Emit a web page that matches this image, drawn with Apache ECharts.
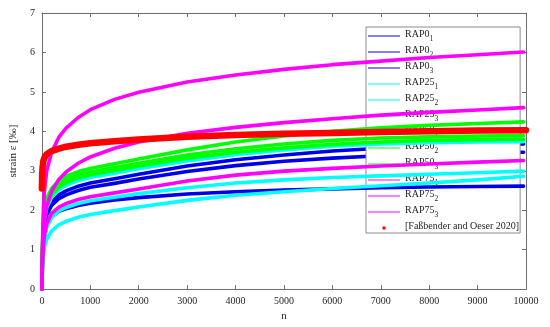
<!DOCTYPE html>
<html>
<head>
<meta charset="utf-8">
<script src="https://cdn.jsdelivr.net/npm/echarts@6/dist/echarts.min.js"></script>
<style>html,body{margin:0;padding:0;background:#fff;}#c{width:550px;height:327px;}</style>
</head>
<body>
<div id="c"></div>
<script>
// ---- data ----
const nVals = [0, 10, 25, 50, 100, 200, 350, 500, 750, 1000, 1500, 2000, 3000, 4000, 5000, 6000, 7000, 8000, 9000, 9950];

const rap0_1  = [0, 0.80, 1.28, 1.65, 1.95, 2.20, 2.39, 2.49, 2.61, 2.69, 2.80, 2.91, 3.12, 3.28, 3.40, 3.50, 3.57, 3.62, 3.66, 3.68];
const rap0_2  = [0, 0.75, 1.22, 1.58, 1.88, 2.12, 2.29, 2.39, 2.50, 2.58, 2.68, 2.79, 2.98, 3.13, 3.24, 3.32, 3.38, 3.42, 3.45, 3.47];
const rap0_3  = [0, 0.58, 0.98, 1.32, 1.60, 1.83, 1.97, 2.04, 2.12, 2.18, 2.26, 2.32, 2.41, 2.47, 2.51, 2.54, 2.57, 2.59, 2.60, 2.61];
const rap25_1 = [0, 0.85, 1.35, 1.75, 2.06, 2.33, 2.52, 2.63, 2.75, 2.83, 2.94, 3.05, 3.25, 3.41, 3.53, 3.62, 3.68, 3.71, 3.73, 3.74];
const rap25_2 = [0, 0.55, 0.95, 1.28, 1.57, 1.81, 1.98, 2.07, 2.17, 2.24, 2.33, 2.42, 2.57, 2.69, 2.77, 2.83, 2.87, 2.91, 2.95, 2.99];
const rap25_3 = [0, 0.50, 0.80, 1.05, 1.27, 1.47, 1.63, 1.72, 1.82, 1.89, 1.99, 2.08, 2.25, 2.38, 2.47, 2.55, 2.62, 2.69, 2.77, 2.86];
const rap50_1 = [0, 1.00, 1.55, 1.95, 2.30, 2.55, 2.75, 2.86, 2.98, 3.06, 3.18, 3.30, 3.53, 3.73, 3.88, 4.00, 4.09, 4.15, 4.20, 4.24];
const rap50_2 = [0, 0.95, 1.45, 1.88, 2.20, 2.47, 2.66, 2.77, 2.89, 2.97, 3.08, 3.19, 3.40, 3.56, 3.68, 3.77, 3.83, 3.86, 3.88, 3.89];
const rap50_3 = [0, 0.90, 1.40, 1.82, 2.13, 2.40, 2.59, 2.70, 2.82, 2.90, 3.01, 3.12, 3.32, 3.47, 3.58, 3.67, 3.73, 3.77, 3.79, 3.80];
const rap75_1 = [0, 1.10, 1.85, 2.45, 3.00, 3.47, 3.85, 4.08, 4.35, 4.55, 4.81, 4.99, 5.25, 5.43, 5.57, 5.69, 5.78, 5.87, 5.94, 6.01];
const rap75_2 = [0, 0.75, 1.35, 1.75, 2.10, 2.48, 2.78, 2.97, 3.19, 3.35, 3.57, 3.73, 3.95, 4.10, 4.22, 4.32, 4.41, 4.48, 4.54, 4.60];
const rap75_3 = [0, 0.60, 1.00, 1.35, 1.66, 1.92, 2.08, 2.17, 2.27, 2.34, 2.44, 2.54, 2.74, 2.89, 2.99, 3.06, 3.12, 3.17, 3.22, 3.26];

const refN      = [0, 5, 15, 30, 60, 100, 200, 350, 500, 750, 1000, 1500, 2000, 3000, 4000, 5000, 6000, 7000, 8000, 9000, 10000];
const refStrain = [2.55, 2.90, 3.10, 3.25, 3.35, 3.42, 3.50, 3.56, 3.61, 3.66, 3.70, 3.75, 3.79, 3.86, 3.91, 3.94, 3.96, 3.98, 4.00, 4.02, 4.03];

const seriesNames = ['RAP0_1','RAP0_2','RAP0_3','RAP25_1','RAP25_2','RAP25_3','RAP50_1','RAP50_2','RAP50_3','RAP75_1','RAP75_2','RAP75_3'];
const seriesVals  = [rap0_1, rap0_2, rap0_3, rap25_1, rap25_2, rap25_3, rap50_1, rap50_2, rap50_3, rap75_1, rap75_2, rap75_3];
const refName = '[Faßbender and Oeser 2020]';

const xMin = 0, xMax = 10000, xStep = 1000;
const yMin = 0, yMax = 7, yStep = 1;
const xTitle = 'n';
const yTitle = 'strain ε [‰]';

// ---- styling ----
const BLUE = '#0000e8', CYAN = '#00ffff', GREEN = '#00ff00', MAG = '#ff00ff', RED = '#ff0000';
const groupColor = [BLUE, BLUE, BLUE, CYAN, CYAN, CYAN, GREEN, GREEN, GREEN, MAG, MAG, MAG];
const FONT = 'Liberation Serif';
const AX = '#6e6e6e';
const TXT = '#262626';
const LINE_ICON = 'path://M0,0M32,10M0,4.5h32v1h-32z';
const DOT_ICON = 'path://M0,0M32,10M14.5,3.5h3v3h-3z';

const series = seriesNames.map((nm, k) => ({
  name: nm,
  type: 'line',
  data: nVals.map((n, i) => [n, seriesVals[k][i]]),
  showSymbol: false,
  symbol: 'none',
  smooth: false,
  lineStyle: { color: groupColor[k], width: 3.6, cap: 'round', join: 'round' },
  itemStyle: { color: groupColor[k] },
  silent: true,
  z: 2 + k
}));
series.push({
  name: refName,
  type: 'line',
  data: refN.map((n, i) => [n, refStrain[i]]),
  showSymbol: false,
  symbol: 'none',
  smooth: false,
  lineStyle: { color: RED, width: 6.5, cap: 'round', join: 'round' },
  itemStyle: { color: RED },
  silent: true,
  z: 20
});

const legendData = seriesNames.map(n => ({ name: n, icon: LINE_ICON }));
legendData.push({ name: refName, icon: DOT_ICON });

const plainNum = v => String(v);

const chart = echarts.init(document.getElementById('c'), null, { renderer: 'canvas' });
chart.setOption({
  animation: false,
  backgroundColor: '#ffffff',
  grid: { left: 31, right: 24, top: 13, bottom: 36, containLabel: false },
  xAxis: [{
    type: 'value', min: xMin, max: xMax, interval: xStep, position: 'bottom',
    name: xTitle, nameLocation: 'middle', nameGap: 19,
    nameTextStyle: { fontFamily: FONT, fontSize: 11, color: TXT },
    axisLine: { show: true, lineStyle: { color: AX, width: 1 } },
    axisTick: { show: true, inside: true, length: 4, lineStyle: { color: AX } },
    axisLabel: { fontFamily: FONT, fontSize: 10, color: TXT, margin: 7, formatter: plainNum },
    splitLine: { show: false }
  }, {
    type: 'value', min: xMin, max: xMax, interval: xStep, position: 'top',
    axisLine: { show: true, onZero: false, lineStyle: { color: AX, width: 1 } },
    axisTick: { show: true, inside: true, length: 4, lineStyle: { color: AX } },
    axisLabel: { show: false }, splitLine: { show: false }
  }],
  yAxis: [{
    type: 'value', min: yMin, max: yMax, interval: yStep, position: 'left',
    name: yTitle, nameLocation: 'middle', nameGap: 13,
    nameTextStyle: { fontFamily: FONT, fontSize: 11, color: TXT },
    axisLine: { show: true, lineStyle: { color: AX, width: 1 } },
    axisTick: { show: true, inside: true, length: 4, lineStyle: { color: AX } },
    axisLabel: { fontFamily: FONT, fontSize: 10, color: TXT, margin: 7, formatter: plainNum },
    splitLine: { show: false }
  }, {
    type: 'value', min: yMin, max: yMax, interval: yStep, position: 'right',
    axisLine: { show: true, onZero: false, lineStyle: { color: AX, width: 1 } },
    axisTick: { show: true, inside: true, length: 4, lineStyle: { color: AX } },
    axisLabel: { show: false }, splitLine: { show: false }
  }],
  legend: {
    orient: 'vertical',
    left: 366, top: 27,
    data: legendData,
    backgroundColor: '#ffffff',
    borderColor: '#8c8c8c', borderWidth: 1, borderRadius: 0,
    padding: [2, 1, 0, 2],
    itemWidth: 32, itemHeight: 10, itemGap: 2,
    selectedMode: false,
    textStyle: {
      fontFamily: FONT, fontSize: 10, color: TXT,
      rich: {
        a: { fontFamily: FONT, fontSize: 10, color: TXT, lineHeight: 14, verticalAlign: 'top' },
        s: { fontFamily: FONT, fontSize: 7.5, color: TXT, lineHeight: 8, verticalAlign: 'bottom' }
      }
    },
    formatter: function (name) {
      const p = name.split('_');
      if (p.length === 2) return '{a|' + p[0] + '}{s|' + p[1] + '}';
      return '{a|' + name + '}';
    }
  },
  series: series
});
</script>
</body>
</html>
